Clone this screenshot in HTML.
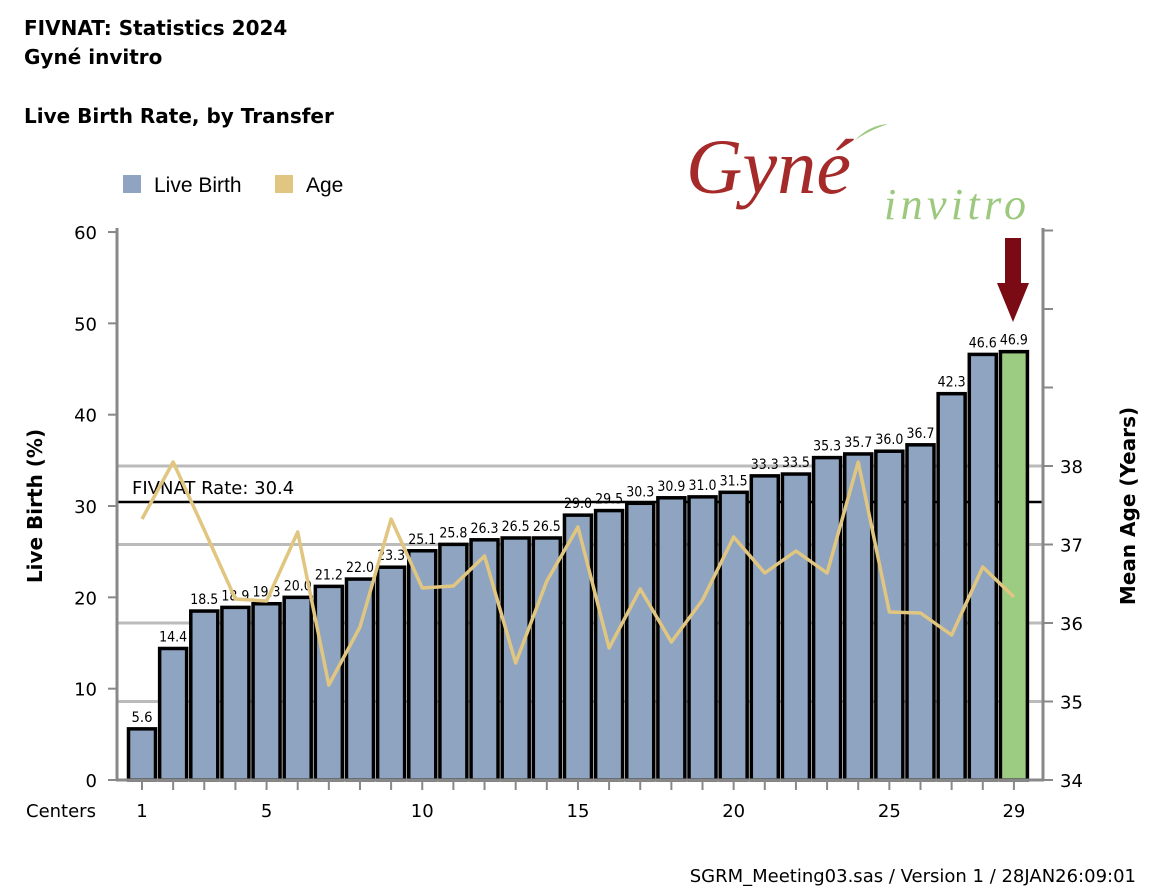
<!DOCTYPE html>
<html><head><meta charset="utf-8"><style>
body{margin:0;background:#fff;}
svg{display:block;font-family:"Liberation Sans",sans-serif;}
</style></head><body>
<svg id="s" width="1156" height="891" xmlns="http://www.w3.org/2000/svg">
<g font-family="DejaVu Sans,sans-serif" font-weight="bold" font-size="20">
<text x="24" y="35">FIVNAT: Statistics 2024</text>
<text x="24" y="64">Gyné invitro</text>
<text x="24" y="123">Live Birth Rate, by Transfer</text>
</g>
<rect x="123" y="175" width="18" height="18" fill="#8ea4c1"/>
<text x="154" y="192" font-size="21">Live Birth</text>
<rect x="275" y="175" width="18" height="18" fill="#e0c680"/>
<text x="306" y="192" font-size="21">Age</text>
<text x="686" y="193" font-size="78" font-style="italic" fill="#a52a2a" font-family="Liberation Serif,serif" textLength="165">Gyné</text>
<text x="884" y="219" font-size="44" font-style="italic" fill="#9cc97e" font-family="Liberation Serif,serif" textLength="142">invitro</text>
<path d="M855 140 Q870 125 888 124 Q870 130 855 140Z" fill="#9cc97e"/>
<g id="g"></g>
<polygon points="1005,238 1021,238 1021,283 1029,283 1013,322 997,283 1005,283" fill="#7a0a14"/>
<text x="26" y="817" font-size="18" font-family="DejaVu Sans,sans-serif">Centers</text>
<text transform="translate(42,506) rotate(-90)" font-size="20" font-weight="bold" text-anchor="middle" font-family="DejaVu Sans,sans-serif">Live Birth (%)</text>
<text transform="translate(1135,506) rotate(-90)" font-size="20" font-weight="bold" text-anchor="middle" font-family="DejaVu Sans,sans-serif">Mean Age (Years)</text>
<text x="1136" y="882" font-size="18" text-anchor="end" font-family="DejaVu Sans,sans-serif">SGRM_Meeting03.sas / Version 1 / 28JAN26:09:01</text>
</svg>
<script>
var v=[5.6,14.4,18.5,18.9,19.3,20.0,21.2,22.0,23.3,25.1,25.8,26.3,26.5,26.5,29.0,29.5,30.3,30.9,31.0,31.5,33.3,33.5,35.3,35.7,36.0,36.7,42.3,46.6,46.9];
var ay=[519,462,530,599,601,532,685,627,519,588,586,556,663,581,527,648,589,642,600,537,573,551,573,462,612,613,635,567,597];
var h='',x0=142,dx=31.14,Y=function(t){return 780-t*9.133;};
[701.5,623,544.5,466].forEach(function(y){h+='<line x1="117" x2="1043" y1="'+y+'" y2="'+y+'" stroke="#bbb" stroke-width="3"/>';});
h+='<line x1="117" x2="1043" y1="502" y2="502" stroke="#000" stroke-width="2.5"/>';
h+='<text x="132" y="494" font-size="18" font-family="DejaVu Sans,sans-serif">FIVNAT Rate: 30.4</text>';
v.forEach(function(t,i){var c=x0+i*dx,y=Y(t),s=t.toFixed(1);
h+='<rect x="'+(c-13.5)+'" y="'+y+'" width="27" height="'+(780-y)+'" fill="'+(i==28?'#9ccb82':'#8ea4c1')+'" stroke="#000" stroke-width="3.5"/>';
h+='<text x="'+c+'" y="'+(y-7)+'" font-size="14" text-anchor="middle" font-family="DejaVu Sans,sans-serif" textLength="'+(s.length*7)+'" lengthAdjust="spacingAndGlyphs">'+s+'</text>';
h+='<line x1="'+c+'" x2="'+c+'" y1="781" y2="790" stroke="#888" stroke-width="2"/>';});
var p=ay.map(function(y,i){return (x0+i*dx)+','+y;}).join(' ');
h+='<polyline points="'+p+'" fill="none" stroke="#e0c680" stroke-width="3.5" stroke-linejoin="round"/>';
h+='<line x1="117" x2="117" y1="228" y2="781" stroke="#888" stroke-width="3"/>';
h+='<line x1="1043" x2="1043" y1="228" y2="781" stroke="#888" stroke-width="3"/>';
h+='<line x1="116" x2="1044" y1="780" y2="780" stroke="#888" stroke-width="3"/>';
for(var k=0;k<=6;k++){var y=Y(k*10);h+='<line x1="108" x2="117" y1="'+y+'" y2="'+y+'" stroke="#888" stroke-width="2"/><text x="97" y="'+(y+7)+'" font-size="18" text-anchor="end" font-family="DejaVu Sans,sans-serif">'+(k*10)+'</text>';}
for(var k=0;k<=7;k++){var y=780-k*78.5;h+='<line x1="1043" x2="1053" y1="'+y+'" y2="'+y+'" stroke="#888" stroke-width="2"/>';if(k<=4)h+='<text x="1060" y="'+(y+7)+'" font-size="18" font-family="DejaVu Sans,sans-serif">'+(34+k)+'</text>';}
[[1,'1'],[5,'5'],[10,'10'],[15,'15'],[20,'20'],[25,'25'],[29,'29']].forEach(function(a){h+='<text x="'+(x0+(a[0]-1)*dx)+'" y="817" font-size="18" text-anchor="middle" font-family="DejaVu Sans,sans-serif">'+a[1]+'</text>';});
document.getElementById('g').innerHTML=h;
</script>
</body></html>
